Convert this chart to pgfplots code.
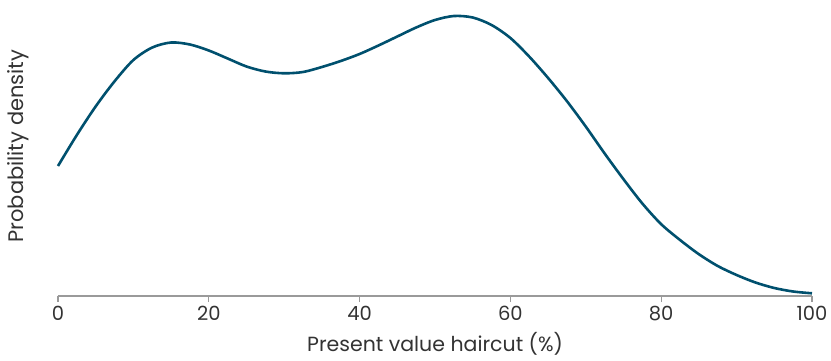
\documentclass[border=0pt]{standalone}
\usepackage{fontspec}
\setmainfont{Poppins}
\usepackage{pgfplots}
\pgfplotsset{compat=1.18}
\definecolor{curve}{HTML}{00506E}
\definecolor{axgray}{HTML}{9A9A9A}
\definecolor{txt}{HTML}{333333}
\begin{document}
\begin{tikzpicture}[x=1pt,y=1pt]
\useasboundingbox (-58,-64) rectangle (773,296);
\begin{axis}[
  at={(0,0)}, anchor=south west,
  scale only axis, width=754pt, height=286pt,
  xmin=0, xmax=100, ymin=0, ymax=286,
  clip=false,
  axis x line=bottom, axis y line=left,
  x axis line style={axgray, line width=1.2pt, -},
  y axis line style={draw=none},
  xtick={0,20,40,60,80,100},
  ytick=\empty,
  tick align=outside,
  major tick length=6pt,
  tick style={axgray, line width=1.2pt},
  xticklabel style={txt, font=\fontsize{19.5}{19.5}\selectfont, yshift=-1pt},
  /pgf/number format/assume math mode=true,
  xlabel={Present value haircut (\%)},
  xlabel style={txt, font=\fontsize{20.5}{20.5}\selectfont, at={(axis description cs:0.5,0)}, anchor=base, yshift=-55pt},
  ylabel={Probability density},
  ylabel style={txt, font=\fontsize{21}{21}\selectfont, at={(axis description cs:-0.053,0.524)}, anchor=center, rotate=0},
]
\addplot[curve, line width=2.6pt, smooth, tension=0.5] coordinates {
(0,130) (2.5,161) (5,189.6) (7.5,214.7) (10,236) (12.5,248.5) (15,253.5)
(17.5,251.5) (20,245.5) (22.5,237.5) (25,229.5) (27.5,224.5) (30,222.7)
(32.5,224) (35,229) (37.5,235) (40,242) (42.5,250.5) (45,259.5)
(47.5,268.5) (50,276) (52.5,280) (55,278.5) (57.5,271)
(60,258) (62.5,239.4) (65,218) (67.5,194.8) (70,169.4) (72.5,142.5)
(75,116.8) (77.5,92.5) (80,71.8) (82.5,56) (85,41.8) (87.5,30)
(90,21) (92.5,13.5) (95,8) (97.5,4.5) (100,2.7)
};
\end{axis}
\end{tikzpicture}
\end{document}
